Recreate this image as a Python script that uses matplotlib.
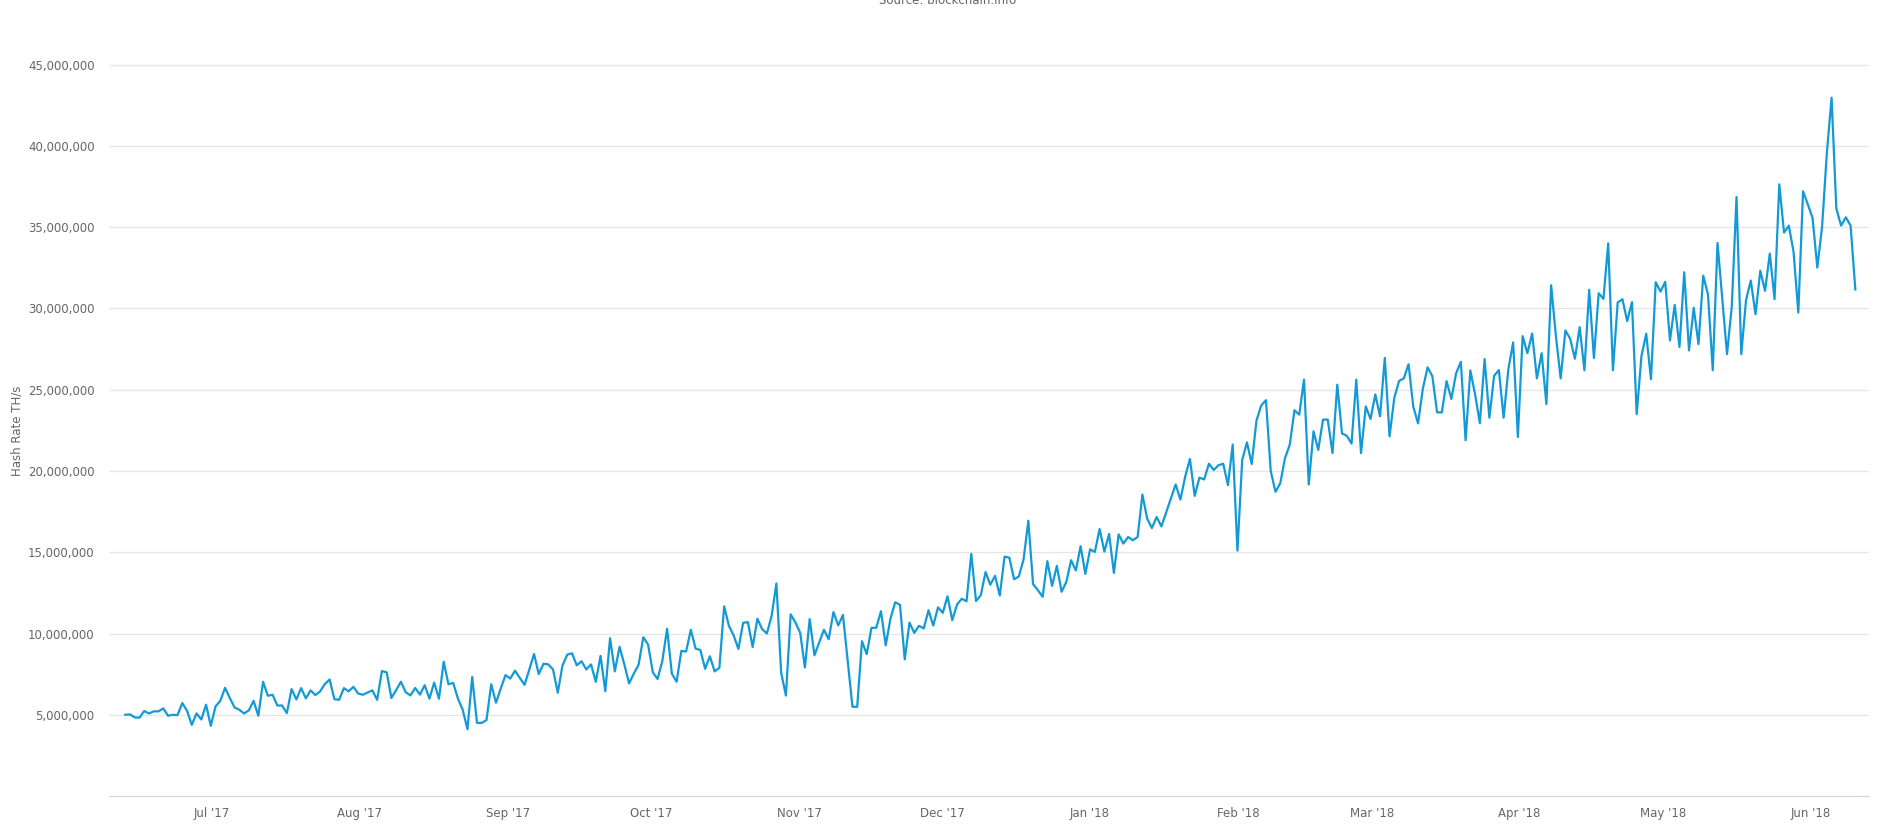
import pandas as pd
import matplotlib
matplotlib.use('Agg')
import matplotlib.pyplot as plt
import matplotlib.dates as mdates
from matplotlib.ticker import FuncFormatter

# daily hash rate, millions of TH/s (mid Jun 2017 .. Jun 10 2018)
hash_rate_m = [
    5.00, 5.02, 4.84, 4.82, 5.23, 5.08, 5.21, 5.21, 5.39, 4.94, 5.00, 4.98, 5.72, 5.25, 4.38, 5.08,
    4.71, 5.62, 4.32, 5.51, 5.86, 6.66, 6.03, 5.45, 5.31, 5.08, 5.27, 5.86, 4.94, 7.03, 6.17,
    6.23, 5.57, 5.57, 5.10, 6.58, 5.94, 6.64, 6.01, 6.50, 6.21, 6.44, 6.89, 7.17, 5.96, 5.92, 6.64,
    6.44, 6.72, 6.31, 6.23, 6.37, 6.50, 5.92, 7.69, 7.61, 6.03, 6.52, 7.03, 6.39, 6.19,
    6.65, 6.24, 6.82, 5.99, 6.98, 5.99, 8.26, 6.88, 6.96, 5.99, 5.31, 4.11, 7.33, 4.50, 4.50, 4.67,
    6.88, 5.74, 6.61, 7.44, 7.23, 7.71, 7.27, 6.84, 7.77, 8.74, 7.50, 8.14, 8.10, 7.79, 6.36,
    8.04, 8.70, 8.78, 8.04, 8.29, 7.79, 8.10, 7.03, 8.62, 6.45, 9.71, 7.67, 9.18, 8.10, 6.93, 7.53,
    8.08, 9.77, 9.32, 7.61, 7.20, 8.31, 10.29, 7.53, 7.03, 8.93, 8.89, 10.23, 9.07, 8.99,
    7.83, 8.60, 7.67, 7.89, 11.67, 10.48, 9.88, 9.05, 10.66, 10.70, 9.17, 10.91, 10.27, 10.00, 11.10,
    13.08, 7.58, 6.18, 11.18, 10.68, 10.04, 7.91, 10.89, 8.66, 9.44, 10.23, 9.65, 11.32, 10.50, 11.14,
    8.29, 5.49, 5.49, 9.53, 8.73, 10.35, 10.35, 11.37, 9.27, 10.92, 11.92, 11.76, 8.41, 10.67, 10.04,
    10.47, 10.31, 11.43, 10.49, 11.61, 11.27, 12.29, 10.82, 11.78, 12.14, 11.98, 14.90, 12.00, 12.35,
    13.78, 13.00,
    13.55, 12.34, 14.73, 14.67, 13.34, 13.51, 14.55, 16.94, 13.04, 12.67, 12.26, 14.45, 12.93, 14.16,
    12.57, 13.18, 14.51, 13.88, 15.37, 13.67, 15.18, 15.02, 16.43, 15.04, 16.12, 13.73, 16.10, 15.53,
    15.94, 15.74, 15.94,
    18.55, 17.07, 16.49, 17.17, 16.59, 17.46, 18.31, 19.17, 18.24, 19.65, 20.74, 18.47, 19.59, 19.48,
    20.45, 20.06, 20.35, 20.45, 19.13, 21.63, 15.10, 20.68, 21.76, 20.43, 23.10, 24.03, 24.36, 20.00,
    18.72, 19.24,
    20.79, 21.61, 23.74, 23.47, 25.62, 19.17, 22.44, 21.30, 23.16, 23.16, 21.10, 25.31, 22.31, 22.17,
    21.69, 25.62, 21.10, 23.97, 23.20, 24.71, 23.37, 26.96, 22.13, 24.50, 25.54, 25.70, 26.57, 23.95,
    22.93, 25.06, 26.38,
    25.84, 23.61, 23.61, 25.53, 24.43, 26.00, 26.72, 21.89, 26.19, 24.71, 22.95, 26.89, 23.28, 25.86,
    26.21, 23.28, 26.27, 27.91, 22.09, 28.30, 27.25, 28.46, 25.70, 27.25, 24.12, 31.43, 28.30, 25.70,
    28.65, 28.14,
    26.91, 28.85, 26.20, 31.15, 26.95, 30.94, 30.59, 34.01, 26.20, 30.37, 30.57, 29.22, 30.39, 23.50,
    27.08, 28.45, 25.64, 31.62, 31.04, 31.64, 28.04, 30.22, 27.63, 32.23, 27.42, 30.04, 27.81, 32.02,
    30.86, 26.20, 34.03,
    30.59, 27.19, 30.10, 36.86, 27.19, 30.51, 31.72, 29.65, 32.32, 31.09, 33.38, 30.57, 37.64, 34.67,
    35.10, 33.48, 29.75, 37.21, 36.41, 35.57, 32.52, 35.02, 39.55, 42.97, 36.15, 35.10, 35.61, 35.10,
    31.17,
]
first_day = '2017-06-12 20:00'
last_day = '2018-06-10 08:00'
dates = pd.date_range(first_day, last_day, periods=len(hash_rate_m))
hash_rate = [v * 1e6 for v in hash_rate_m]

y_ticks = [5e6, 10e6, 15e6, 20e6, 25e6, 30e6, 35e6, 40e6, 45e6]

label_col = '#666666'
grid_col = '#e6e6e6'
axis_col = '#ccd6eb'

fig = plt.figure(figsize=(18.91, 8.26), dpi=100)
ax = fig.add_axes([0.0574, 0.0363, 0.931, 0.905])

ax.plot(dates, hash_rate, color='#139ad6', lw=1.6)

ax.set_ylim(0, 46e6)
ax.set_xlim(pd.Timestamp('2017-06-09 08:00'), pd.Timestamp('2018-06-13 05:00'))
ax.set_yticks(y_ticks)
ax.yaxis.set_major_formatter(FuncFormatter(lambda v, p: f'{v:,.0f}'))
ax.xaxis.set_major_locator(mdates.MonthLocator())
ax.xaxis.set_major_formatter(mdates.DateFormatter("%b '%y"))

ax.grid(axis='y', color=grid_col, lw=1)
ax.set_axisbelow(True)
for s in ['top', 'right', 'left']:
    ax.spines[s].set_visible(False)
ax.spines['bottom'].set_color(axis_col)
ax.tick_params(axis='y', length=0, pad=10, labelsize=8.5, labelcolor=label_col)
ax.tick_params(axis='x', length=0, pad=8, labelsize=8.5, labelcolor=label_col)

fig.text(0.009, 0.0363 + 0.905 * 22.5 / 46, 'Hash Rate TH/s', rotation=90,
         ha='center', va='center', fontsize=8.5, color=label_col)
fig.text(0.501, 0.999, 'Source: blockchain.info', ha='center', va='center',
         fontsize=8.5, color=label_col)

fig.savefig('out.png', dpi=100)
